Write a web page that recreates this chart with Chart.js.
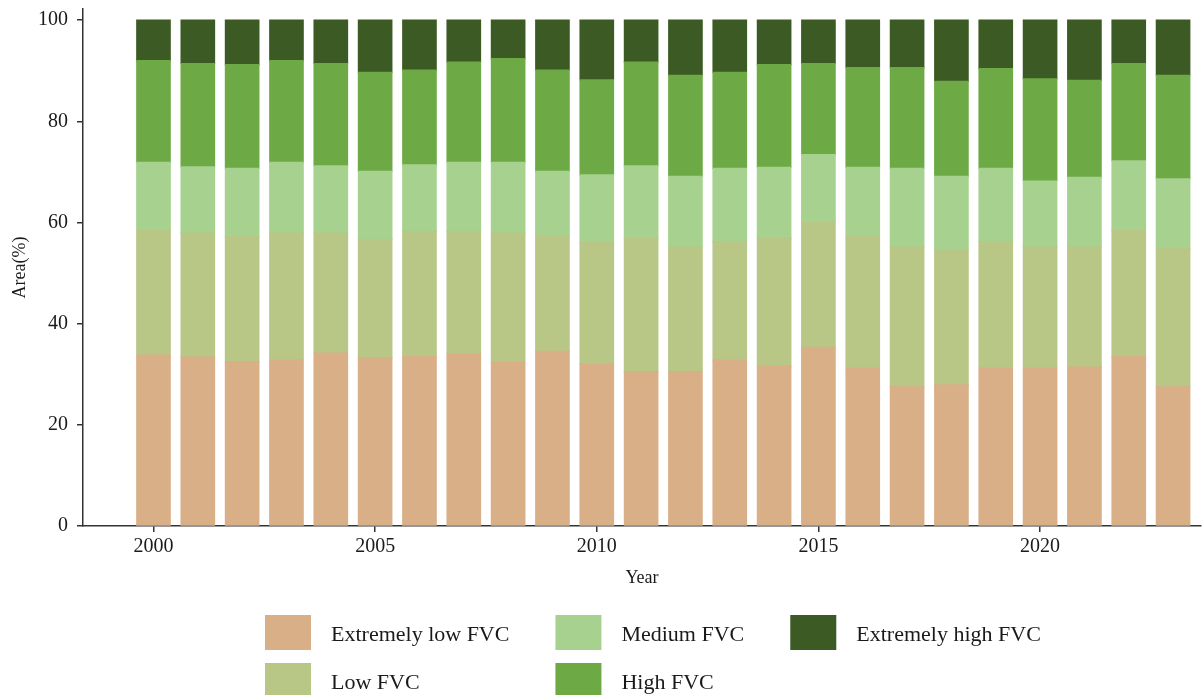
<!DOCTYPE html>
<html>
<head>
<meta charset="utf-8">
<title>FVC area by year</title>
<script src="https://cdn.jsdelivr.net/npm/chart.js@4.4.1/dist/chart.umd.min.js"></script>
<style>
  html, body { margin: 0; padding: 0; background: #fff; }
  #chart { display: block; }
</style>
</head>
<body>
<canvas id="chart" width="1202" height="695"></canvas>
<script>
// share of area (%) taken by each FVC class, per year

const years = [2000, 2001, 2002, 2003, 2004, 2005, 2006, 2007, 2008, 2009, 2010, 2011,
               2012, 2013, 2014, 2015, 2016, 2017, 2018, 2019, 2020, 2021, 2022, 2023];

const ext_low  = [33.8, 33.4, 32.5, 32.8, 34.2, 33.3, 33.5, 34.0, 32.3, 34.5, 32.0, 30.5,
                  30.5, 32.8, 31.6, 35.3, 31.2, 27.5, 27.9, 31.2, 31.2, 31.4, 33.5, 27.5];
const low      = [24.7, 24.5, 24.7, 25.1, 23.7, 23.3, 24.7, 24.2, 25.6, 22.7, 24.0, 26.4,
                  24.7, 23.4, 25.3, 24.7, 26.0, 27.7, 26.7, 25.0, 24.0, 23.8, 25.0, 27.4];
const medium   = [13.4, 13.1, 13.5, 14.0, 13.3, 13.5, 13.2, 13.7, 14.0, 12.9, 13.4, 14.3,
                  13.9, 14.5, 14.0, 13.4, 13.7, 15.5, 14.5, 14.5, 13.0, 13.7, 13.7, 13.7];
const high     = [20.1, 20.4, 20.5, 20.1, 20.2, 19.6, 18.7, 19.8, 20.5, 20.0, 18.8, 20.5,
                  20.0, 19.0, 20.3, 18.0, 19.7, 19.9, 18.8, 19.7, 20.2, 19.2, 19.2, 20.5];
const ext_high = [8.0, 8.6, 8.8, 8.0, 8.6, 10.3, 9.9, 8.3, 7.6, 9.9, 11.8, 8.3,
                  10.9, 10.3, 8.8, 8.6, 9.4, 9.4, 12.1, 9.6, 11.6, 11.9, 8.6, 10.9];

const class_names = ["Extremely low FVC", "Low FVC", "Medium FVC", "High FVC", "Extremely high FVC"];
const x_ticks = [2000, 2005, 2010, 2015, 2020];
const y_ticks = [0, 20, 40, 60, 80, 100];

// colours, bottom of the stack first
const class_colors = ["#d9af88", "#b8c786", "#a6d18e", "#6daa45", "#3c5a23"];
const axis_color = "#333333";
const text_color = "#1a1a1a";
const serif = "'Liberation Serif', 'Times New Roman', serif";

// turn a series into {x, y} points for the linear year axis
function to_points(values) {
  return years.map((yr, i) => ({ x: yr, y: values[i] }));
}

function make_datasets() {
  const series = [ext_low, low, medium, high, ext_high];
  return series.map((vals, i) => ({
    label: class_names[i],
    data: to_points(vals),
    backgroundColor: class_colors[i],
    borderWidth: 0,
    // a little overlap so no seam shows between stacked pieces
    inflateAmount: 0.6,
    categoryPercentage: 1.0,
    barPercentage: 0.755
  }));
}

// legend laid out in columns of two rows, drawn under the axes
const grid_legend = {
  id: "grid_legend",
  afterDraw(chart) {
    const ctx = chart.ctx;
    const sets = chart.data.datasets;
    const rows = 2;
    const sw = 46, sh = 35, gap = 20, col_gap = 46, row_h = 48;
    const top = 615;
    let x = 265;
    ctx.save();
    ctx.font = "22px " + serif;
    ctx.textBaseline = "middle";
    ctx.textAlign = "left";
    for (let c = 0; c * rows < sets.length; c++) {
      let widest = 0;
      for (let r = 0; r < rows; r++) {
        const ds = sets[c * rows + r];
        if (!ds) break;
        const y = top + r * row_h;
        ctx.fillStyle = ds.backgroundColor;
        ctx.fillRect(x, y, sw, sh);
        ctx.fillStyle = text_color;
        ctx.fillText(ds.label, x + sw + gap, y + 20);
        widest = Math.max(widest, ctx.measureText(ds.label).width);
      }
      x += sw + gap + widest + col_gap;
    }
    ctx.restore();
  }
};

function init_chart() {
  const tick_font = { family: serif, size: 20 };
  const title_font = { family: serif, size: 18 };
  const config = {
    type: "bar",
    data: { datasets: make_datasets() },
    options: {
      responsive: false,
      animation: false,
      layout: { padding: { top: 9, right: 1, bottom: 106, left: 0 } },
      plugins: {
        legend: { display: false },
        tooltip: { enabled: false }
      },
      scales: {
        x: {
          type: "linear",
          stacked: true,
          offset: false,
          min: 1998.41,
          max: 2023.63,
          afterBuildTicks: (s) => { s.ticks = x_ticks.map(v => ({ value: v })); },
          afterFit: (s) => { s.height = 63; },
          grid: { offset: false, drawOnChartArea: false, drawTicks: true, tickLength: 6, color: axis_color, lineWidth: 1.5 },
          border: { display: true, color: axis_color, width: 1.5 },
          ticks: { font: tick_font, color: text_color, padding: 3, maxRotation: 0, callback: (v) => String(v) },
          title: { display: true, text: "Year", font: title_font, color: text_color, padding: 0 }
        },
        y: {
          stacked: true,
          min: 0,
          max: 102.2,
          afterBuildTicks: (s) => { s.ticks = y_ticks.map(v => ({ value: v })); },
          // the top tick sits below the axis end, so no extra room is needed for its label
          afterFit: (s) => { s.width = 83; s.paddingTop = 0; s.paddingBottom = 0; },
          grid: { drawOnChartArea: false, drawTicks: true, tickLength: 6, color: axis_color, lineWidth: 1.5 },
          border: { display: true, color: axis_color, width: 1.5 },
          ticks: { font: tick_font, color: text_color, padding: 9, callback: (v) => String(v) },
          title: { display: true, text: "Area(%)", font: title_font, color: text_color, padding: { top: 9 } }
        }
      }
    },
    plugins: [grid_legend]
  };
  return new Chart(document.getElementById("chart").getContext("2d"), config);
}

init_chart();
</script>
</body>
</html>
